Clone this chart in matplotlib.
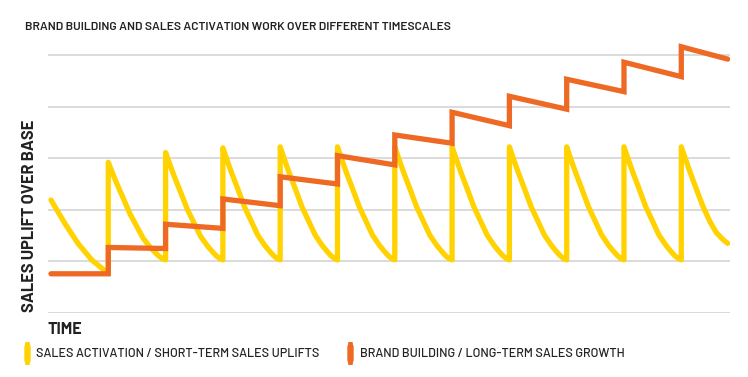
import matplotlib
matplotlib.use("Agg")
import matplotlib.pyplot as plt
from matplotlib.patches import FancyBboxPatch

# time axis: one unit = one campaign cycle
# yellow: short-term sales activation bursts
yellow_first_t = [0.0, 0.24, 0.47, 0.71, 0.94, 1.0]
yellow_first_y = [2.19, 1.74, 1.35, 1.03, 0.82, 0.80]
yellow_peaks = [2.92, 3.11, 3.20, 3.22, 3.22, 3.22, 3.22, 3.22, 3.22, 3.22]
yellow_troughs = [1.03, 1.03, 1.03, 1.03, 1.03, 1.03, 1.03, 1.03, 1.03, 1.03]
# decay within one cycle (fraction of cycle, fraction of drop)
decay_t = [0.0, 0.08, 0.15, 0.27, 0.38, 0.50, 0.61, 0.73, 0.81, 0.88, 0.95, 1.0]
decay_drop = [0.0, 0.12, 0.22, 0.38, 0.53, 0.66, 0.78, 0.87, 0.92, 0.96, 0.99, 1.0]
yellow_last_t = [11.0, 11.08, 11.15, 11.27, 11.38, 11.50, 11.61, 11.73, 11.81]
yellow_last_y = [3.22, 2.96, 2.74, 2.38, 2.06, 1.77, 1.56, 1.42, 1.35]

# orange: long-term brand building, value at start/end of each cycle
orange_start = [0.76, 1.27, 1.72, 2.21, 2.64, 3.05, 3.45, 3.89, 4.20, 4.53, 4.86, 5.16]
orange_end = [0.76, 1.25, 1.64, 2.08, 2.50, 2.87, 3.29, 3.63, 3.95, 4.29, 4.58, 4.92]
orange_len = [1, 1, 1, 1, 1, 1, 1, 1, 1, 1, 1, 0.81]

title = "BRAND BUILDING AND SALES ACTIVATION WORK OVER DIFFERENT TIMESCALES"
ylabel = "SALES UPLIFT OVER BASE"
xlabel = "TIME"
legend_labels = ["SALES ACTIVATION / SHORT-TERM SALES UPLIFTS",
                 "BRAND BUILDING / LONG-TERM SALES GROWTH"]

col_y = "#FFD200"
col_o = "#EE6A24"
txt = "#222222"
grid = "#d8d8d8"
font = ["Barlow", "DejaVu Sans"]

# build the line paths
yt, yy = list(yellow_first_t), list(yellow_first_y)
for i in range(10):
    p, tr = yellow_peaks[i], yellow_troughs[i]
    for f, d in zip(decay_t, decay_drop):
        yt.append(1 + i + f)
        yy.append(p - (p - tr) * d)
yt += yellow_last_t
yy += yellow_last_y

ot, oy = [], []
t0 = 0
for s, e, L in zip(orange_start, orange_end, orange_len):
    ot += [t0, t0 + L]
    oy += [s, e]
    t0 += L

fig = plt.figure(figsize=(7.48, 3.77), dpi=100)
ax = fig.add_axes([48 / 748, 64 / 377, 682 / 748, 5.3 * 51.6 / 377])
ax.set_xlim(-0.052, 11.85)
ax.set_ylim(0, 5.3)
ax.axis("off")

for g in range(6):
    ax.axhline(g, color=grid, lw=1.3, zorder=1)

ax.plot(yt, yy, color=col_y, lw=3.8, solid_capstyle="round",
        solid_joinstyle="round", zorder=2)
ax.plot(ot, oy, color=col_o, lw=3.8, solid_capstyle="round",
        solid_joinstyle="miter", zorder=3)

fig.text(25 / 748, 1 - 27 / 377, title, fontsize=8.7, fontweight="semibold",
         color=txt, family=font, va="center", ha="left")
fig.text(30 / 748, 1 - 216 / 377, ylabel, fontsize=11.8, fontweight="bold",
         color=txt, family=font, rotation=90, va="center", ha="center")
fig.text(47 / 748, 1 - 330 / 377, xlabel, fontsize=11.6, fontweight="bold",
         color=txt, family=font, va="center", ha="left")

for x0, xt, c, lab in [(25, 36.5, col_y, legend_labels[0]),
                       (348, 360, col_o, legend_labels[1])]:
    fig.patches.append(FancyBboxPatch((x0 / 748, 1 - 364 / 377), 5 / 748, 21 / 377,
                                      boxstyle="round,pad=0,rounding_size=0.006",
                                      transform=fig.transFigure, color=c,
                                      mutation_aspect=2))
    fig.text(xt / 748, 1 - 354 / 377, lab, fontsize=9.05, fontweight="medium",
             color=txt, family=font, va="center", ha="left")

fig.savefig("out.png", dpi=100)
